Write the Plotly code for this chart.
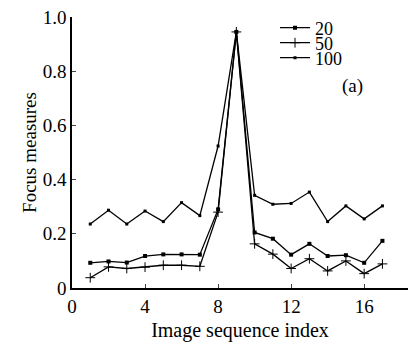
import plotly.graph_objects as go

x_index = list(range(1, 18))
s20 = [0.093, 0.098, 0.094, 0.118, 0.124, 0.124, 0.123, 0.29, 0.945,
       0.205, 0.182, 0.123, 0.163, 0.118, 0.121, 0.093, 0.174]
s50 = [0.038, 0.078, 0.072, 0.077, 0.084, 0.084, 0.080, 0.28, 0.945,
       0.163, 0.125, 0.072, 0.108, 0.063, 0.100, 0.053, 0.089]
s100 = [0.236, 0.287, 0.236, 0.284, 0.245, 0.315, 0.267, 0.524, 0.945,
        0.342, 0.309, 0.312, 0.354, 0.245, 0.303, 0.255, 0.303]
series_names = ["20", "50", "100"]
x_ticks = [0, 4, 8, 12, 16]
y_ticks = [0, 0.2, 0.4, 0.6, 0.8, 1.0]
y_tick_text = ["0", "0.2", "0.4", "0.6", "0.8", "1.0"]

FONT = "Liberation Serif, Times New Roman, serif"
L, R, T, B = 72, 2, 17, 54
PW, PH = 410 - L - R, 342 - T - B

fig = go.Figure()
styles = [
    dict(symbol="square", size=4),
    dict(symbol="cross-thin-open", size=7, line=dict(width=1, color="black")),
    dict(symbol="square", size=3),
]
legend_ids = ["legend", "legend2", "legend3"]
for name, vals, mk, lg in zip(series_names, [s20, s50, s100], styles, legend_ids):
    fig.add_trace(go.Scatter(
        x=x_index, y=vals, name=name, mode="lines+markers",
        line=dict(color="black", width=1.3),
        marker=dict(color="black", **mk),
        legend=lg,
    ))

legend_rows_px = [28, 43, 58]
legend_left_px = 275
for lg, ypx in zip(legend_ids, legend_rows_px):
    fig.update_layout({lg: dict(
        x=(legend_left_px - L) / PW, y=(342 - B - ypx) / PH,
        xanchor="left", yanchor="middle",
        bgcolor="rgba(0,0,0,0)", borderwidth=0,
        font=dict(size=18, family=FONT, color="black"),
        itemwidth=30, tracegroupgap=0,
    )})

fig.update_layout(
    width=410, height=342,
    margin=dict(l=L, r=R, t=T, b=B),
    paper_bgcolor="white", plot_bgcolor="white",
    font=dict(family=FONT, size=19, color="black"),
    showlegend=True,
    xaxis=dict(range=[0, 18.4], tickvals=x_ticks, ticks="inside", ticklen=4,
               showline=True, linecolor="black", linewidth=1.5,
               showgrid=False, zeroline=False, tickfont=dict(size=19),
               title=dict(text="Image sequence index", font=dict(size=20), standoff=10)),
    yaxis=dict(range=[0, 1.0], tickvals=y_ticks, ticktext=y_tick_text,
               ticks="inside", ticklen=4,
               showline=True, linecolor="black", linewidth=1.5,
               showgrid=False, zeroline=False, tickfont=dict(size=19),
               title=dict(text="Focus measures", font=dict(size=19), standoff=1)),
    annotations=[dict(text="(a)", x=(352 - L) / PW, y=(342 - B - 86) / PH,
                      xref="paper", yref="paper", xanchor="center", yanchor="middle",
                      showarrow=False, font=dict(size=19))],
)
fig.write_html("out.html", config={"displayModeBar": False},
               post_script="document.body.style.margin='0';document.body.style.padding='0';")
